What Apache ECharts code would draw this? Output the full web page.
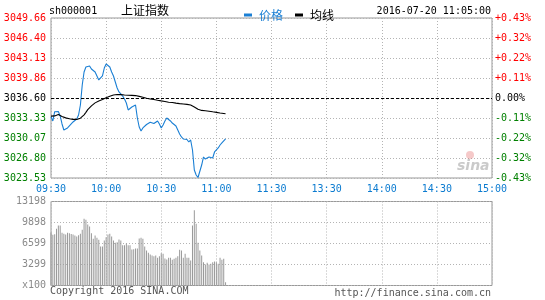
<!DOCTYPE html>
<html>
<head>
<meta charset="utf-8">
<script src="https://cdn.jsdelivr.net/npm/echarts@6/dist/echarts.min.js"></script>
<style>html,body{margin:0;padding:0;background:#fff;}#c{width:545px;height:300px;}</style>
</head>
<body>
<div id="c"></div>
<script>
// ---- data ----
const timeTicks = ['09:30','10:00','10:30','11:00','11:30','13:30','14:00','14:30','15:00'];
const priceTicks = ['3023.53','3026.80','3030.07','3033.33','3036.60','3039.86','3043.13','3046.40','3049.66'];
const pctTicks = ['-0.43%','-0.32%','-0.22%','-0.11%','0.00%','+0.11%','+0.22%','+0.32%','+0.43%'];
const volTicks = ['x100','3299','6599','9898','13198'];
const priceMin = 3023.53, priceMax = 3049.66, prevClose = 3036.60, volMax = 13198;

const price = [
3033.54,3032.84,3034.36,3034.47,3034.39,3033.66,3032.35,3031.37,3031.21,3031.70,
3032.02,3032.35,3032.68,3032.92,3033.17,3033.82,3035.45,3038.72,3040.84,3041.66,
3041.98,3041.82,3041.33,3041.17,3040.84,3040.19,3039.54,3039.29,3040.19,3041.49,
3042.15,3041.98,3041.66,3040.84,3040.19,3039.21,3038.23,3037.58,3037.25,3036.92,
3036.43,3035.78,3034.64,3034.80,3035.13,3035.29,3035.45,3033.33,3031.86,3031.21,
3031.70,3031.91,3032.27,3032.51,3032.63,3032.35,3032.43,3032.46,3032.84,3032.35,
3031.70,3032.19,3032.84,3033.33,3033.49,3032.84,3032.51,3032.27,3032.02,3031.37,
3030.72,3030.23,3029.90,3029.74,3029.82,3029.41,3029.74,3028.10,3024.84,3024.02,
3023.61,3023.86,3025.65,3026.96,3026.63,3026.80,3026.96,3027.12,3026.80,3027.78,
3028.10,3028.43,3028.92,3029.25,3029.57,3029.90];

const avgPrice = [
3033.64,3033.54,3033.67,3033.80,3033.89,3033.84,3033.59,3033.43,3033.35,3033.27,
3033.22,3033.15,3033.10,3033.10,3033.10,3033.18,3033.30,3033.51,3033.84,3034.25,
3034.69,3034.98,3035.31,3035.55,3035.80,3035.99,3036.12,3036.24,3036.35,3036.48,
3036.65,3036.74,3036.87,3037.01,3037.09,3037.14,3037.17,3037.18,3037.15,3037.12,
3037.09,3037.07,3037.05,3037.04,3037.02,3037.02,3036.99,3036.92,3036.86,3036.81,
3036.73,3036.65,3036.56,3036.48,3036.43,3036.38,3036.34,3036.29,3036.22,3036.17,
3036.12,3036.07,3036.03,3035.96,3035.91,3035.88,3035.85,3035.80,3035.76,3035.72,
3035.68,3035.65,3035.62,3035.58,3035.55,3035.50,3035.45,3035.39,3035.14,3034.87,
3034.77,3034.67,3034.57,3034.54,3034.51,3034.47,3034.44,3034.39,3034.34,3034.29,
3034.25,3034.20,3034.15,3034.10,3034.07,3034.03];

const volume = [
8326,7965,8060,8907,9426,9426,8279,8122,8012,8279,
8200,8100,8012,7855,7698,7900,8122,8750,10478,10321,
9583,9269,8216,7336,7855,7494,7180,6127,6127,7070,
7588,8000,8122,7698,7070,6703,6808,7227,7070,6336,
6336,6598,6336,6336,5656,5708,5813,5813,7384,7489,
7331,6127,5499,5132,4870,4713,4608,4713,4346,4608,
5080,4975,4242,4085,4346,4346,4032,4189,4346,4608,
5603,5499,4346,4975,4346,4346,3928,9426,11830,9688,
6703,5499,4713,3666,3299,3561,3299,3404,3666,3770,
3666,3404,4346,4032,4200,524];

// minute index of each sample (0 = 09:30)
const minutes = price.map((_, i) => i);

const BLUE = '#1a7fd4', LBLUE = '#0b7bd0', RED = '#ff0000', GREEN = '#008000';
const MONO = 'DejaVu Sans Mono', CJK = '"Noto Sans CJK SC"';
const dotted = { color: '#b4b4b4', type: [1, 2], width: 1 };
const colorOf = v => (+v > 4 ? RED : (+v === 4 ? '#000' : GREEN));

const chart = echarts.init(document.getElementById('c'), null, { renderer: 'canvas' });
chart.setOption({
  animation: false,
  backgroundColor: '#fff',
  color: [BLUE, '#000', '#999'],
  legend: {
    left: 239, top: 4, itemWidth: 8, itemHeight: 3, itemGap: 12, icon: 'rect',
    textStyle: { fontFamily: CJK, fontSize: 12, padding: [0, 0, 0, 2] },
    data: [
      { name: '价格', textStyle: { color: BLUE } },
      { name: '均线', textStyle: { color: '#000' } }
    ]
  },
  grid: [
    { left: 51, right: 53, top: 18, height: 160, show: true, borderColor: '#999', borderWidth: 1 },
    { left: 51, right: 53, top: 201.5, height: 84, show: true, borderColor: '#999', borderWidth: 1 }
  ],
  xAxis: [
    { gridIndex: 0, type: 'value', min: 0, max: 240, interval: 30,
      axisLine: { show: false }, axisTick: { show: false },
      splitLine: { show: true, lineStyle: dotted },
      axisLabel: { color: LBLUE, fontFamily: MONO, fontSize: 10, margin: 6,
        formatter: v => timeTicks[Math.round(v / 30)] } },
    { gridIndex: 1, type: 'value', min: 0, max: 240, interval: 30,
      axisLine: { show: false }, axisTick: { show: false },
      splitLine: { show: true, lineStyle: dotted },
      axisLabel: { show: false } }
  ],
  yAxis: [
    { gridIndex: 0, type: 'value', min: 0, max: 8, interval: 1, position: 'left',
      axisLine: { show: false }, axisTick: { show: false },
      splitLine: { show: true, lineStyle: dotted },
      axisLabel: { fontFamily: MONO, fontSize: 10, margin: 5, color: colorOf,
        formatter: v => priceTicks[Math.round(v)] } },
    { gridIndex: 0, type: 'value', min: 0, max: 8, interval: 1, position: 'right',
      axisLine: { show: false }, axisTick: { show: false }, splitLine: { show: false },
      axisLabel: { fontFamily: MONO, fontSize: 10, margin: 3, color: colorOf,
        formatter: v => pctTicks[Math.round(v)] } },
    { gridIndex: 0, type: 'value', min: priceMin, max: priceMax, show: false, splitLine: { show: false } },
    { gridIndex: 1, type: 'value', min: 0, max: volMax, interval: volMax / 4,
      axisLine: { show: false }, axisTick: { show: false },
      splitLine: { show: true, lineStyle: dotted },
      axisLabel: { fontFamily: MONO, fontSize: 10, margin: 5, color: '#8a8a8a',
        formatter: (v, i) => volTicks[Math.round(v / (volMax / 4))] } }
  ],
  series: [
    { name: '价格', type: 'line', xAxisIndex: 0, yAxisIndex: 2, showSymbol: false, symbol: 'none',
      data: minutes.map((m, i) => [m, price[i]]),
      lineStyle: { color: BLUE, width: 1.1 }, itemStyle: { color: BLUE },
      markLine: { silent: true, symbol: ['none', 'none'], label: { show: false },
        lineStyle: { color: '#000', type: [3, 2], width: 1 },
        data: [{ yAxis: prevClose }] } },
    { name: '均线', type: 'line', xAxisIndex: 0, yAxisIndex: 2, showSymbol: false, symbol: 'none',
      data: minutes.map((m, i) => [m, avgPrice[i]]),
      lineStyle: { color: '#000', width: 1.1 }, itemStyle: { color: '#000' } },
    { name: '成交量', type: 'bar', xAxisIndex: 1, yAxisIndex: 3, barWidth: 1,
      data: minutes.map((m, i) => [m, volume[i]]),
      itemStyle: { color: '#999' } }
  ],
  graphic: [
    { type: 'text', left: 49, top: 6, style: { text: 'sh000001', font: '10px "DejaVu Sans Mono"', fill: '#000' } },
    { type: 'text', left: 121, top: 4, style: { text: '上证指数', font: '12px "Noto Sans CJK SC"', fill: '#000' } },
    { type: 'text', right: 54, top: 6, style: { text: '2016-07-20 11:05:00', font: '10px "DejaVu Sans Mono"', fill: '#000' } },
    { type: 'text', left: 50, top: 286, style: { text: 'Copyright 2016 SINA.COM', font: '10px "DejaVu Sans Mono"', fill: '#555' } },
    { type: 'text', right: 54, top: 288, style: { text: 'http://finance.sina.com.cn', font: '10px "DejaVu Sans Mono"', fill: '#555' } },
    { type: 'circle', shape: { cx: 470, cy: 155, r: 4 }, style: { fill: 'rgba(230,120,120,0.4)' }, z: 1 },
    { type: 'text', left: 457, top: 159, z: 1, style: { text: 'sina', font: 'italic bold 14px "DejaVu Sans"', fill: 'rgba(150,150,150,0.5)' } }
  ]
});
</script>
</body>
</html>
